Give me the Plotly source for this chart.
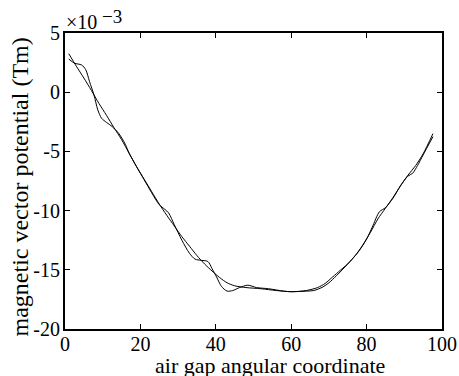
import plotly.graph_objects as go

# Smooth curve (values in units of 1e-3 Tm)
xa = [1, 3, 5, 7, 9, 11, 13, 15, 17, 19, 21, 23, 25, 27, 29, 31, 33, 35, 37, 39,
      41, 43, 45, 48, 52, 56, 60, 64, 67, 69, 71, 73, 75, 77, 79, 81, 83, 85, 87,
      89, 91, 93, 95, 97.6]
ya = [3.25, 2.2, 1.2, 0.15, -0.95, -1.95, -3.0, -4.0, -5.15, -6.3, -7.35, -8.4,
      -9.45, -10.4, -11.3, -12.2, -13.0, -13.8, -14.5, -15.1, -15.65, -16.1,
      -16.35, -16.5, -16.6, -16.75, -16.85, -16.75, -16.5, -16.15, -15.6, -15.05,
      -14.5, -13.8, -12.9, -11.85, -10.7, -9.8, -8.95, -7.9, -7.0, -6.2, -5.2, -3.5]

# Wiggly curve
xb = [1, 2.5, 4.4, 5.5, 6.5, 7.7, 8.7, 9.7, 11, 12.5, 14.3, 16, 17, 19, 21, 23,
      25, 26.5, 27.5, 29, 31, 33, 34.5, 36.2, 37.9, 39, 40.2, 41.5, 43, 44.5,
      46.3, 48.5, 50.8, 54, 58, 60, 64, 66, 68.4, 70, 72, 74, 76, 78, 80, 81.5,
      83.4, 85, 87, 89, 90.9, 92.2, 93.5, 95, 97.6]
yb = [2.8, 2.45, 2.3, 1.9, 0.9, -0.25, -1.5, -2.2, -2.55, -2.9, -3.5, -4.4, -5.15,
      -6.3, -7.4, -8.5, -9.5, -9.9, -10.2, -11.2, -12.5, -13.6, -14.1, -14.2,
      -14.3, -14.9, -15.6, -16.4, -16.8, -16.75, -16.5, -16.3, -16.5, -16.6,
      -16.8, -16.85, -16.8, -16.75, -16.45, -16.1, -15.5, -14.85, -14.15, -13.4,
      -12.4, -11.4, -10.1, -9.75, -8.9, -7.9, -7.1, -6.85, -6.2, -5.3, -3.75]

xticks = [0, 20, 40, 60, 80, 100]
yticks = [5, 0, -5, -10, -15, -20]
yticklabels = ["5", "0", "-5", "-10", "-15", "-20"]

FONT = "Liberation Serif"

fig = go.Figure()
fig.add_trace(go.Scatter(x=xa, y=ya, mode="lines",
                         line=dict(color="black", width=1, shape="spline", smoothing=0.8)))
fig.add_trace(go.Scatter(x=xb, y=yb, mode="lines",
                         line=dict(color="black", width=1, shape="spline", smoothing=0.8)))

axis_common = dict(showgrid=False, zeroline=False, showline=True, linecolor="black",
                   linewidth=2, mirror="ticks", ticks="inside", ticklen=5,
                   tickcolor="black", tickwidth=1, automargin=False,
                   tickfont=dict(family=FONT, size=20, color="black"))

fig.update_xaxes(range=[0, 100], tickvals=xticks, ticklabelstandoff=-4, **axis_common)
fig.update_yaxes(range=[-20, 5], tickvals=yticks, ticktext=yticklabels,
                 ticklabelstandoff=-1, **axis_common)

fig.add_annotation(text="air gap angular coordinate", xref="paper", yref="paper",
                   x=0.544, y=0, xanchor="center", yanchor="middle", yshift=-36,
                   showarrow=False, font=dict(family=FONT, size=22, color="black"))
fig.add_annotation(text="magnetic vector potential (Tm)", xref="paper", yref="paper",
                   x=0, y=0.478, xanchor="center", yanchor="middle", xshift=-45,
                   textangle=-90, showarrow=False,
                   font=dict(family=FONT, size=24, color="black"))
fig.add_annotation(text="×10", xref="paper", yref="paper", x=0.0, y=1.0,
                   xanchor="left", yanchor="bottom", xshift=-1, yshift=-2,
                   showarrow=False, font=dict(family=FONT, size=20, color="black"))
fig.add_annotation(text="−3", xref="paper", yref="paper", x=0.0, y=1.0,
                   xanchor="left", yanchor="bottom", xshift=35, yshift=4,
                   showarrow=False, font=dict(family=FONT, size=19, color="black"))

fig.update_layout(width=459, height=376, showlegend=False,
                  plot_bgcolor="white", paper_bgcolor="white",
                  margin=dict(l=65, r=17, t=33, b=47))

# remove the default page margin so the figure fills the window exactly
fig.write_html("out.html", config={"displayModeBar": False},
               post_script="document.body.style.margin='0';")
